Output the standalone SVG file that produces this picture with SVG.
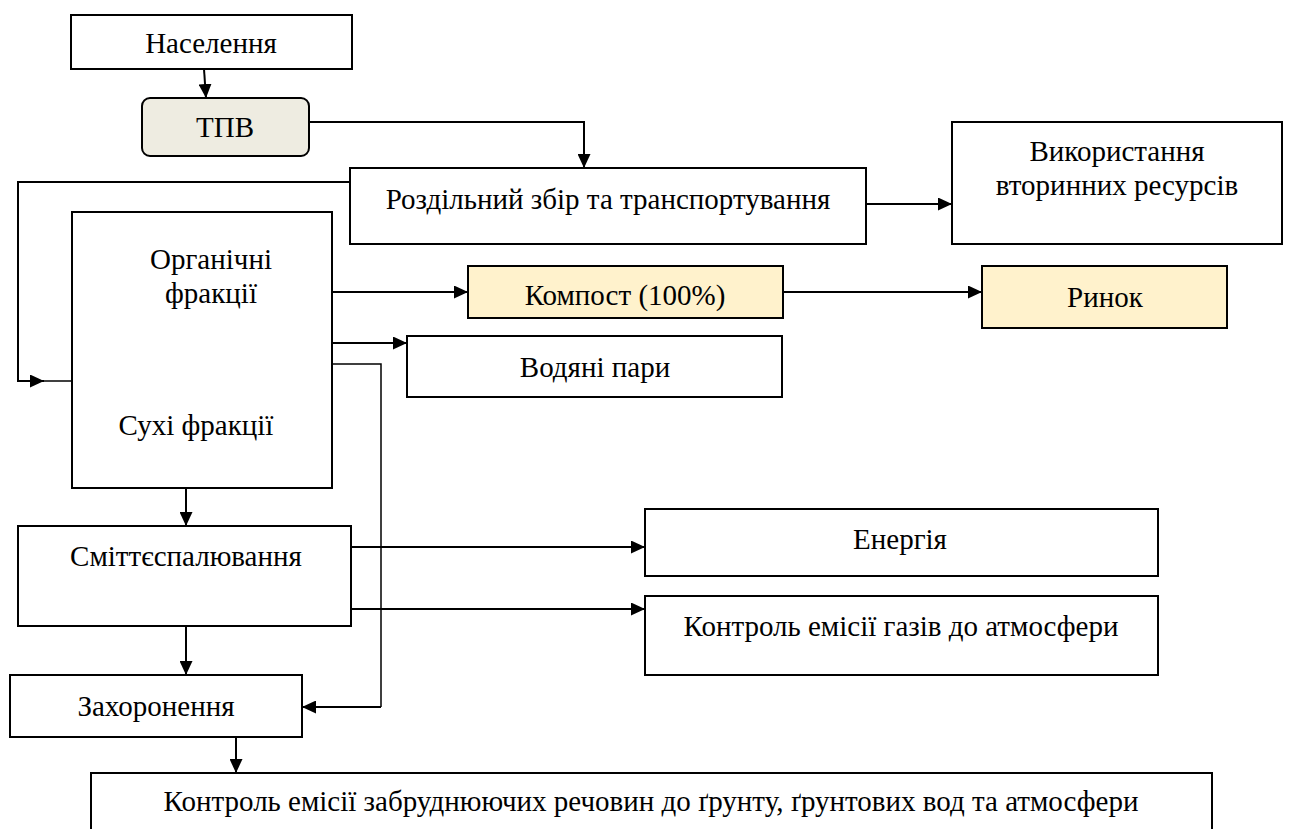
<svg xmlns="http://www.w3.org/2000/svg" width="1291" height="829" viewBox="0 0 1291 829">
<defs>
<style>
.box{fill:#ffffff;stroke:#000000;stroke-width:2}
.yel{fill:#fff2cc;stroke:#000000;stroke-width:2}
.gr{fill:#eeece1;stroke:#000000;stroke-width:2}
.t{font-family:'Liberation Serif','Times New Roman',serif;font-size:29px;fill:#000000;text-anchor:middle}
.c{fill:none;stroke:#000000;stroke-width:2}
.d{fill:none;stroke:#000000;stroke-width:1.5}
</style>
<marker id="ah" viewBox="0 0 14 13" refX="14" refY="6.5" markerWidth="14" markerHeight="13" markerUnits="userSpaceOnUse" orient="auto">
<path d="M0,0 L14,6.5 L0,13 Z" fill="#000000"/>
</marker>
</defs>
<rect width="1291" height="829" fill="#ffffff"/>

<g id="connectors">
<path class="c" d="M204,69 L206,98" marker-end="url(#ah)"/>
<path class="c" d="M309,122 L584,122 L584,168" marker-end="url(#ah)"/>
<path class="c" d="M866,204 L952,204" marker-end="url(#ah)"/>
<path class="c" d="M350,182 L18,182 L18,381 L44,381" marker-end="url(#ah)"/>
<path class="d" d="M44,381 L332,381"/>
<path class="c" d="M332,292 L468,292" marker-end="url(#ah)"/>
<path class="c" d="M783,292 L982,292" marker-end="url(#ah)"/>
<path class="c" d="M332,343 L407,343" marker-end="url(#ah)"/>
<path class="d" d="M332,364 L381,364 L381,707"/>
<path class="c" d="M381,707 L302,707" marker-end="url(#ah)"/>
<path class="c" d="M186,488 L186,526" marker-end="url(#ah)"/>
<path class="c" d="M351,547 L645,547" marker-end="url(#ah)"/>
<path class="c" d="M351,609 L645,609" marker-end="url(#ah)"/>
<path class="c" d="M186,626 L186,675" marker-end="url(#ah)"/>
<path class="c" d="M236,737 L236,773" marker-end="url(#ah)"/>
</g>

<g id="n-naselennia">
<rect class="box" x="71" y="15" width="281" height="54"/>
<text class="t" x="211" y="53">Населення</text>
</g>
<g id="n-tpv">
<rect class="gr" x="142" y="98" width="167" height="58" rx="8" ry="8"/>
<text class="t" x="225" y="137">ТПВ</text>
</g>
<g id="n-rozdilnyi">
<rect class="box" x="350" y="168" width="516" height="76"/>
<text class="t" x="608" y="209">Роздільний збір та транспортування</text>
</g>
<g id="n-vykorystannia">
<rect class="box" x="952" y="122" width="330" height="122"/>
<text class="t" x="1117" y="161">Використання</text>
<text class="t" x="1117" y="195">вторинних ресурсів</text>
</g>
<g id="n-fraktsii">
<rect class="box" x="72" y="212" width="260" height="276"/>
<text class="t" x="211" y="269">Органічні</text>
<text class="t" x="211" y="303">фракції</text>
<text class="t" x="196" y="435">Сухі фракції</text>
</g>
<g id="n-kompost">
<rect class="yel" x="468" y="266" width="315" height="52"/>
<text class="t" x="625" y="305">Компост (100%)</text>
</g>
<g id="n-rynok">
<rect class="yel" x="982" y="266" width="245" height="62"/>
<text class="t" x="1105" y="307">Ринок</text>
</g>
<g id="n-vodiani">
<rect class="box" x="407" y="336" width="375" height="61"/>
<text class="t" x="595" y="377">Водяні пари</text>
</g>
<g id="n-smittie">
<rect class="box" x="18" y="526" width="333" height="100"/>
<text class="t" x="186" y="566">Сміттєспалювання</text>
</g>
<g id="n-enerhiia">
<rect class="box" x="645" y="509" width="513" height="67"/>
<text class="t" x="900" y="549">Енергія</text>
</g>
<g id="n-kontrol-haziv">
<rect class="box" x="645" y="596" width="513" height="79"/>
<text class="t" x="901" y="636">Контроль емісії газів до атмосфери</text>
</g>
<g id="n-zakhoronennia">
<rect class="box" x="10" y="675" width="292" height="62"/>
<text class="t" x="156" y="716">Захоронення</text>
</g>
<g id="n-kontrol-gruntu">
<rect class="box" x="91" y="773" width="1121" height="70"/>
<text class="t" x="651" y="811">Контроль емісії забруднюючих речовин до ґрунту, ґрунтових вод та атмосфери</text>
</g>
</svg>
